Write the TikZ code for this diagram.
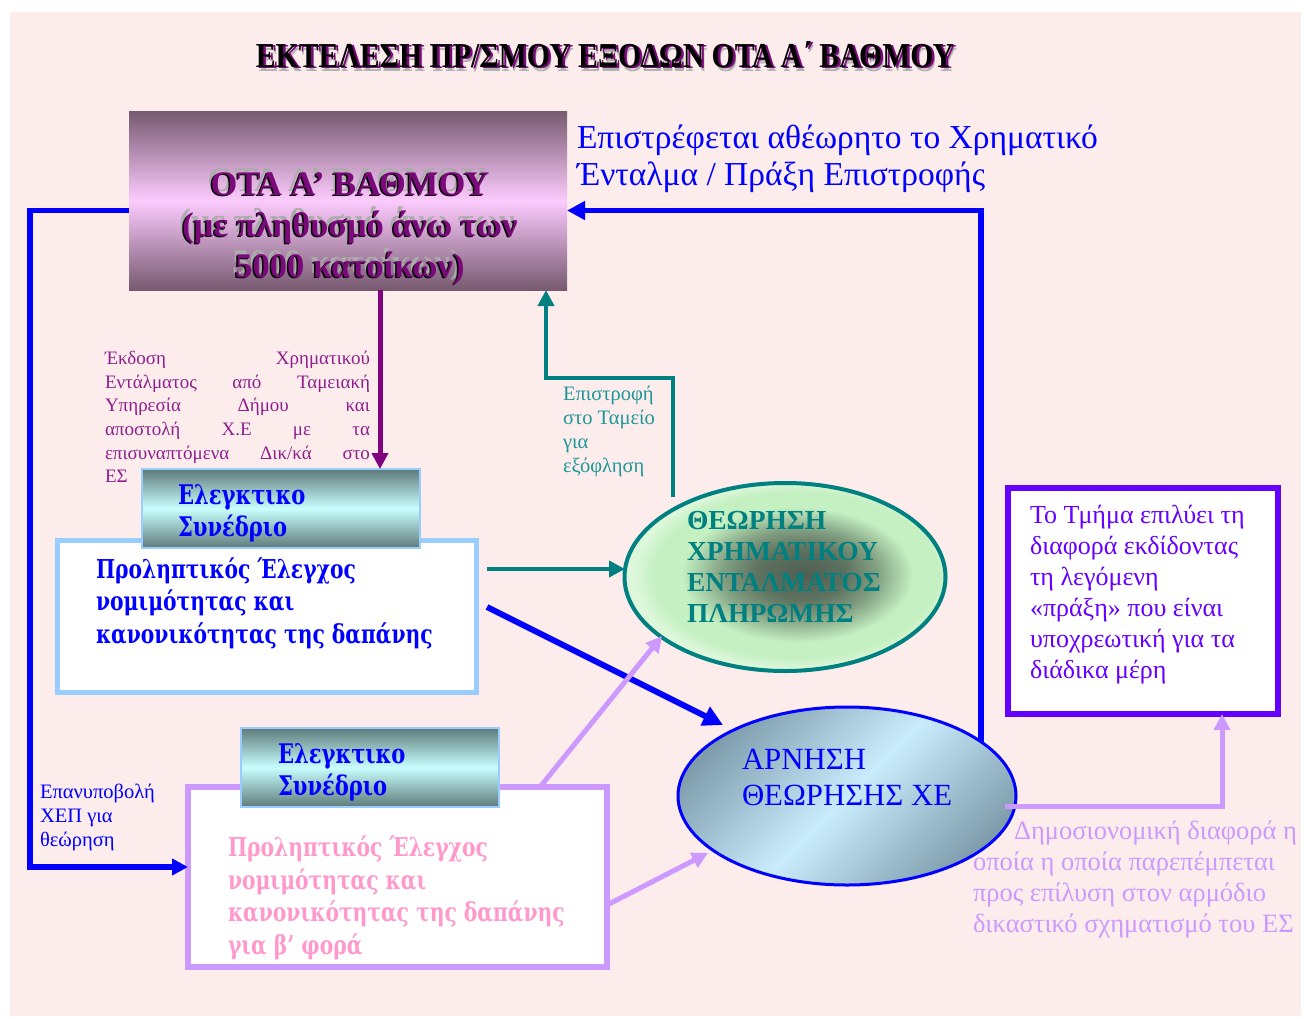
\documentclass[tikz,border=0pt]{standalone}
\usepackage{fontspec}
\setmainfont{Liberation Serif}
\newfontfamily\dvs[FakeStretch=0.78]{DejaVu Serif}
\usetikzlibrary{shapes.geometric,calc,arrows.meta}
\definecolor{bgpink}{HTML}{FDECEC}
\definecolor{otadark}{HTML}{76596F}
\definecolor{otalight}{HTML}{FCCBFE}
\definecolor{otapurple}{HTML}{7A0A7A}
\definecolor{hdrdark}{HTML}{5F7A7A}
\definecolor{hdrlight}{HTML}{C8FFFF}
\definecolor{lblue}{HTML}{99CCFF}
\definecolor{mblue}{HTML}{0000FF}
\definecolor{arrpurple}{HTML}{800080}
\definecolor{txtpurple}{HTML}{8E1F8C}
\definecolor{tealc}{HTML}{008080}
\definecolor{tealtxt}{HTML}{1C9898}
\definecolor{lilac}{HTML}{CC99FF}
\definecolor{pinktxt}{HTML}{FF99CC}
\definecolor{violetc}{HTML}{6600FF}
\definecolor{ellgray}{HTML}{7F9DAD}
\definecolor{elllight}{HTML}{C9ECFD}
\definecolor{glowc}{HTML}{4F5F52}
\definecolor{glowm}{HTML}{82A082}
\definecolor{glowe}{HTML}{C4F0C2}
\definecolor{glowo}{HTML}{DDF7DB}
\pgfdeclareradialshading{glow}{\pgfpoint{3bp}{1bp}}{color(0bp)=(glowc); color(7bp)=(glowc!70!glowm); color(12bp)=(glowm); color(18bp)=(glowe); color(22bp)=(glowe); color(25bp)=(glowo); color(50bp)=(glowo)}
\newcommand\otatxt{ΟΤΑ Α’ ΒΑΘΜΟΥ\\(με πληθυσμό άνω των\\5000 κατοίκων)}
\newcommand\titletxt{\scalebox{0.85}[1]{ΕΚΤΕΛΕΣΗ ΠΡ/ΣΜΟΥ ΕΞΟΔΩΝ ΟΤΑ Α΄ ΒΑΘΜΟΥ}}
\tikzset{
  every node/.style={inner sep=0pt, outer sep=0pt},
  otabox/.style={rectangle, minimum width=438pt, minimum height=179pt,
    top color=otadark, bottom color=otadark, middle color=otalight},
  otafont/.style={font=\fontsize{34.5}{41}\selectfont\bfseries, align=center},
  titlefont/.style={font=\fontsize{35}{35}\selectfont\bfseries},
  hdrbox/.style={rectangle, draw=lblue, line width=1.5pt,
    top color=hdrdark, bottom color=hdrdark, middle color=hdrlight},
  hdrtext/.style={font=\dvs\bfseries\fontsize{27}{32}\selectfont, text=mblue, align=left, anchor=west},
  bodytext/.style={font=\dvs\bfseries\fontsize{26}{32.5}\selectfont, align=left, anchor=west},
  smalltext/.style={font=\fontsize{20.5}{24}\selectfont, align=left, anchor=west},
  conn/.style={line width=5pt, -{Triangle[length=16pt,width=16pt]}},
}
\begin{document}
\begin{tikzpicture}[x=1pt,y=-1pt]
\useasboundingbox (0,0) rectangle (1304,1018);
\fill[white] (0,0) rectangle (1304,1018);
\fill[bgpink] (10,12) rectangle (1301,1016);

% title
\node[titlefont, text=gray!60] (titS) at (608,59) {\titletxt};
\node[titlefont, text=otapurple] (titP) at (607.5,56) {\titletxt};
\node[titlefont, text=black] (tit) at (605,55) {\titletxt};

% OTA box
\node[otabox] (ota) at (348,200.5) {};
\node[otafont, text=gray!65] (otaS) at (347,225) {\otatxt};
\node[otafont, text=black] (otaK) at (348.5,229.5) {\otatxt};
\node[otafont, text=otapurple] (otaT) at (350,228.5) {\otatxt};

% return text
\node[font=\fontsize{33.5}{37}\selectfont, text=mblue, align=left, anchor=west] (rettxt) at (577,158.5)
  {Επιστρέφεται αθέωρητο το Χρηματικό\\Ένταλμα / Πράξη Επιστροφής};

% purple justified text
\node[font=\fontsize{19}{23.6}\selectfont, text=txtpurple, text width=265pt, align=justify, anchor=west] (ekd) at (105,417)
  {Έκδοση Χρηματικού\linebreak Εντάλματος από Ταμειακή\linebreak Υπηρεσία Δήμου και\linebreak αποστολή Χ.Ε με τα\linebreak επισυναπτόμενα Δικ/κά στο\linebreak ΕΣ};

% teal small text
\node[smalltext, text=tealtxt] (epis) at (563,431.5) {Επιστροφή\\στο Ταμείο\\για\\εξόφληση};

% blue small text
\node[smalltext, text=mblue] (epan) at (40,817) {Επανυποβολή\\ΧΕΠ για\\θεώρηση};

% first ES group
\node[rectangle, draw=lblue, line width=5pt, fill=white, minimum width=419pt, minimum height=152pt] (es1) at (266.5,616) {};
\node[hdrbox, minimum width=278pt, minimum height=79pt] (es1h) at (281,508.5) {};
\node[hdrtext] (es1ht) at (178,513) {Ελεγκτικο\\Συνέδριο};
\node[bodytext, text=mblue] (es1t) at (96,603) {Προληπτικός Έλεγχος\\νομιμότητας και\\κανονικότητας της δαπάνης};

% second ES group
\node[rectangle, draw=lilac, line width=5.5pt, fill=white, minimum width=419pt, minimum height=180pt] (es2) at (397.5,877) {};
\node[hdrbox, minimum width=258pt, minimum height=79pt] (es2h) at (370,767.5) {};
\node[hdrtext] (es2ht) at (278,772) {Ελεγκτικο\\Συνέδριο};
\node[bodytext, text=pinktxt] (es2t) at (228,898) {Προληπτικός Έλεγχος\\νομιμότητας και\\κανονικότητας της δαπάνης\\για β’ φορά};

% ellipse 1
\node[ellipse, draw=tealc, line width=4pt, shading=glow, minimum width=321pt, minimum height=188pt] (ell1) at (785,577) {};
\node[font=\fontsize{27.5}{31}\selectfont\bfseries, text=tealc, align=left, anchor=west] (ell1t) at (687,567)
  {ΘΕΩΡΗΣΗ\\ΧΡΗΜΑΤΙΚΟΥ\\ΕΝΤΑΛΜΑΤΟΣ\\ΠΛΗΡΩΜΗΣ};

% ellipse 2
\node[ellipse, draw=mblue, line width=3pt, top color=ellgray, bottom color=ellgray, middle color=elllight, shading angle=45, minimum width=338pt, minimum height=178pt] (ell2) at (847,796) {};
\node[font=\fontsize{30.8}{36}\selectfont, text=mblue, align=left, anchor=west] (ell2t) at (742,777)
  {ΑΡΝΗΣΗ\\ΘΕΩΡΗΣΗΣ ΧΕ};

% right box
\node[rectangle, draw=violetc, line width=6pt, fill=white, minimum width=270pt, minimum height=226pt] (rbox) at (1143,601) {};
\node[font=\fontsize{26}{31}\selectfont, text=violetc, align=left, anchor=west] (rboxt) at (1030,594.5)
  {Το Τμήμα επιλύει τη\\διαφορά εκδίδοντας\\τη λεγόμενη\\«πράξη» που είναι\\υποχρεωτική για τα\\διάδικα μέρη};

% lilac text
\node[font=\fontsize{26.5}{31}\selectfont, text=lilac, align=left, anchor=west] (diaf) at (973,879)
  {\hspace*{41pt}Δημοσιονομική διαφορά η\\οποία η οποία παρεπέμπεται\\προς επίλυση στον αρμόδιο\\δικαστικό σχηματισμό του ΕΣ};

% connectors
\coordinate (lx) at (30,540);
\coordinate (tc) at (546,378);
\draw[conn, draw=mblue, line width=5.5pt, -{Triangle[length=18pt,width=18pt]}] (ell2.22) |- ($(ota.east)+(0,10)$);
\draw[conn, draw=mblue, line width=5.5pt] ($(ota.west)+(0,10)$) -| (lx) |- ($(es2.west)+(0,-10)$);
\draw[conn, draw=arrpurple] ($(ota.south)+(32,0)$) -- ($(es1h.north)+(99,0)$);
\draw[conn, draw=tealc, line width=4.5pt] ($(es1.east)+(11,-47)$) -- ($(ell1.center)+(-160,-8)$);
\draw[conn, draw=mblue, line width=6pt, -{Triangle[length=20pt,width=20pt]}] ($(es1.east)+(11,-9)$) -- ($(ell2.center)+(-124,-71)$);
\draw[conn, draw=tealc, line width=4.5pt] ($(ell1.center)+(-112,-80)$) |- (tc) -- ($(ota.south)+(198,0)$);
\draw[conn, draw=lilac] ($(es2.north)+(142.5,0)$) -- ($(ell1.center)+(-123,59)$);
\draw[conn, draw=lilac] ($(es2.east)+(0,28)$) -- ($(ell2.center)+(-139,57)$);
\draw[conn, draw=lilac] ($(ell2.center)+(158,10)$) -| ($(rbox.south)+(79,0)$);
\end{tikzpicture}
\end{document}
